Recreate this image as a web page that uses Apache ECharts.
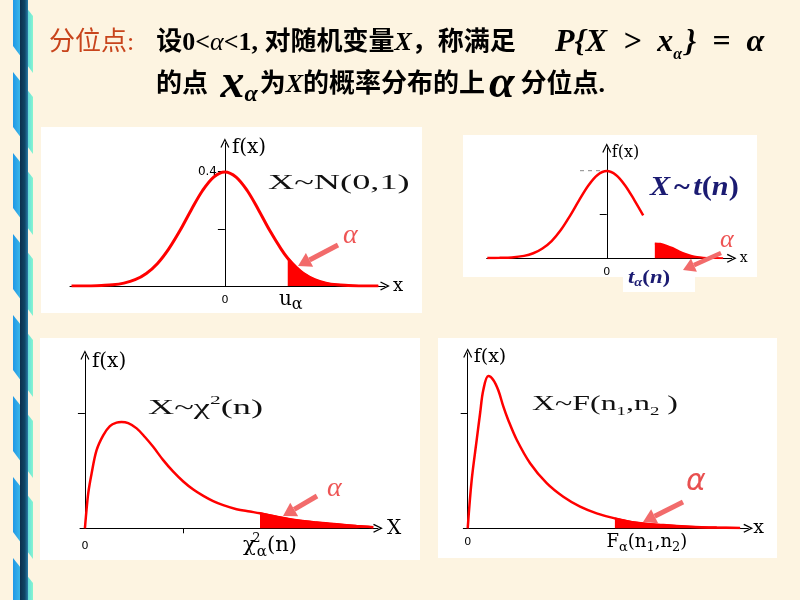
<!DOCTYPE html>
<html><head><meta charset="utf-8">
<script src="https://cdn.jsdelivr.net/npm/echarts@6/dist/echarts.min.js"></script>
<style>html,body{margin:0;padding:0;background:#FDF4E1}#c{width:800px;height:600px}</style>
</head><body><div id="c"></div>
<script>
// ---------- data ----------
// Panel 1: standard normal density N(0,1)
const normX = [-4.1,-3.7,-3.3,-3.0,-2.7,-2.4,-2.1,-1.8,-1.5,-1.2,-0.9,-0.6,-0.3,0,0.3,0.6,0.9,1.2,1.5,1.68,1.9,2.1,2.4,2.7,3.0,3.3,3.7,4.1];
const normY = [0.000,0.000,0.002,0.004,0.010,0.022,0.044,0.079,0.130,0.194,0.266,0.333,0.381,0.399,0.381,0.333,0.266,0.194,0.130,0.097,0.066,0.044,0.022,0.010,0.004,0.002,0.000,0.000];
const normQuantile = 1.68;
const normYTicks = [0.2, 0.4];
const normYLabels = ['0.4'];

// Panel 2: t(n) density (main part, then the shaded tail)
const tMainX = [-3.9,-3.5,-3.1,-2.7,-2.4,-2.1,-1.8,-1.5,-1.2,-0.9,-0.6,-0.3,0,0.3,0.6,0.9,1.19];
const tMainY = [0.001,0.002,0.004,0.011,0.023,0.045,0.079,0.129,0.194,0.266,0.333,0.381,0.399,0.381,0.333,0.266,0.196];
const tTailX = [1.57,1.75,1.95,2.15,2.35,2.55,2.75,2.95,3.15,3.45,3.8];
const tTailY = [0.068,0.066,0.058,0.047,0.033,0.021,0.012,0.006,0.003,0.001,0.000];
const tYTicks = [0.2];

// Panel 3: chi-square density
const chiX = [0,0.05,0.17,0.34,0.59,0.93,1.27,1.61,1.86,2.20,2.63,3.05,3.47,3.98,4.49,5.0,5.51,6.02,6.52,7.03,7.71,8.39,8.90,9.75,10.76,11.78,12.8,13.81,14.66];
const chiY = [0,0.020,0.061,0.095,0.135,0.161,0.177,0.183,0.184,0.182,0.173,0.158,0.141,0.118,0.098,0.081,0.067,0.056,0.047,0.040,0.033,0.029,0.026,0.020,0.014,0.010,0.007,0.004,0.002];
const chiQuantile = 8.90;
const chiXTicks = [5];
const chiYTicks = [0.2];

// Panel 4: F density
const fX = [0,0.10,0.225,0.31,0.39,0.515,0.64,0.765,0.89,1.015,1.225,1.56,1.975,2.39,2.81,3.225,3.68,4.225,4.89,5.56,6.225,6.81];
const fY = [0,0.21,0.384,0.50,0.601,0.662,0.645,0.60,0.53,0.47,0.385,0.283,0.196,0.137,0.094,0.065,0.043,0.024,0.014,0.007,0.003,0.001];
const fQuantile = 3.68;
const fYTicks = [0.5];

// ---------- helpers ----------
const RED = '#FF0000';
const SERIF = "'Liberation Serif','Times New Roman',serif";
const WSERIF = "'DejaVu Serif',serif";
const CJK = "'Liberation Serif','Noto Sans CJK SC',serif";
const NAVY = '#1B1B72';
const ARROWC = '#F26B6B';
const CHEV = 'path://M0,10 L5,0 L10,10 L8.8,10.8 L5,3 L1.2,10.8 Z';
const pairs = (xs, ys) => xs.map((v, i) => [v, ys[i]]);
const tail = (xs, ys, q) => pairs(xs, ys).filter(p => p[0] >= q - 1e-9);

function xAxisCfg(gi, min, max, o) {
  return {
    type: 'value', gridIndex: gi, min: min, max: max,
    splitLine: {show: false},
    axisLine: {onZero: true, symbol: ['none', CHEV], symbolSize: [9, 11], lineStyle: {color: '#000', width: 1}},
    axisTick: {show: !!o.ticks, customValues: o.ticks || [], length: 5, lineStyle: {color: '#000'}},
    axisLabel: {
      customValues: o.labels.map(l => l.v), margin: o.margin || 6,
      formatter: function (v) { const l = o.labels.find(l => Math.abs(l.v - v) < 1e-6); return l ? l.t : ''; },
      color: '#000', fontFamily: SERIF, fontSize: 12, rich: o.rich || {}
    },
    name: o.name, nameLocation: 'end', nameGap: o.nameGap,
    nameTextStyle: {fontFamily: WSERIF, fontSize: o.nameSize, color: '#000', verticalAlign: 'middle'}
  };
}
function yAxisCfg(gi, max, o) {
  return {
    type: 'value', gridIndex: gi, min: 0, max: max,
    splitLine: {show: false},
    axisLine: {onZero: true, symbol: ['none', CHEV], symbolSize: [9, 11], lineStyle: {color: '#000', width: 1}},
    axisTick: {show: true, customValues: o.ticks, length: 7, lineStyle: {color: '#000'}},
    axisLabel: {
      show: !!o.labels, customValues: o.labels ? o.labels.map(Number) : [], margin: o.labelMargin || 8,
      formatter: function (v) { return String(v); }, color: '#000', fontFamily: "'DejaVu Sans',sans-serif", fontSize: 12
    },
    name: 'f(x)', nameLocation: 'end', nameGap: o.nameGap,
    nameTextStyle: {fontFamily: WSERIF, fontSize: o.nameSize, color: '#000', align: 'left', verticalAlign: 'middle', padding: [0, 0, 0, o.namePadLeft]}
  };
}
function curve(gi, data, w) {
  return {type: 'line', xAxisIndex: gi, yAxisIndex: gi, data: data, showSymbol: false, smooth: 0.35,
    lineStyle: {color: RED, width: w}, silent: true, z: 3};
}
function shade(gi, data) {
  return {type: 'line', xAxisIndex: gi, yAxisIndex: gi, data: data, showSymbol: false, smooth: 0.35,
    lineStyle: {color: RED, width: 2}, areaStyle: {color: RED, opacity: 1}, silent: true, z: 4};
}
function arrow(x1, y1, x2, y2, w, head) {
  const a = Math.atan2(y2 - y1, x2 - x1);
  const bx = x2 - head * Math.cos(a), by = y2 - head * Math.sin(a);
  const px = -Math.sin(a) * head * 0.6, py = Math.cos(a) * head * 0.6;
  return [
    {type: 'line', z: 50, shape: {x1: x1, y1: y1, x2: bx, y2: by}, style: {stroke: ARROWC, lineWidth: w}},
    {type: 'polygon', z: 50, shape: {points: [[x2, y2], [bx + px, by + py], [bx - px, by - py]]}, style: {fill: ARROWC}}
  ];
}
function txt(x, y, text, style, rich, sx) {
  return {type: 'text', z: 60, x: x, y: y, scaleX: sx || 1, style: Object.assign({text: text, verticalAlign: 'middle', align: 'left', rich: rich || {}}, style)};
}

// ---------- ribbon decoration ----------
const ribbon = [];
for (let k = -1; k < 8; k++) {
  const y0 = 72 + 81 * k;
  ribbon.push({type: 'polygon', z: -5,
    shape: {points: [[13, y0], [33, y0 + 25], [33, y0 + 82], [13, y0 + 55]]},
    style: {fill: {type: 'linear', x: 0, y: 0, x2: 1, y2: 0, colorStops: [{offset: 0, color: '#1F98E8'}, {offset: 0.55, color: '#4CC6E6'}, {offset: 1, color: '#86F6D0'}]}}});
}
ribbon.push({type: 'rect', z: -4, shape: {x: 20, y: 0, width: 8, height: 600},
  style: {fill: {type: 'linear', x: 0, y: 0, x2: 1, y2: 0, colorStops: [{offset: 0, color: '#0B2E4C'}, {offset: 0.6, color: '#0F4566'}, {offset: 1, color: '#2A7CA8'}]}}});

// ---------- panels ----------
const panels = [
  {x: 41, y: 127, w: 381, h: 186},
  {x: 463, y: 135, w: 294, h: 142},
  {x: 623, y: 262, w: 72, h: 30},
  {x: 40, y: 338, w: 380, h: 222},
  {x: 438, y: 338, w: 339, h: 220}
].map(p => ({type: 'rect', z: -10, shape: {x: p.x, y: p.y, width: p.w, height: p.h}, style: {fill: '#FFFFFF'}}));

function subRich(main, sub, sup) {
  return {
    m: {fontFamily: WSERIF, fontSize: main, color: '#000', lineHeight: main + 6, verticalAlign: 'middle'},
    s: {fontFamily: WSERIF, fontSize: sub, color: '#000', lineHeight: main + 6, verticalAlign: 'bottom'},
    sup: {fontFamily: WSERIF, fontSize: sup || sub, color: '#000', lineHeight: main + 6, verticalAlign: 'top', width: 1},
    z: {fontFamily: "'DejaVu Sans',sans-serif", fontSize: 11, color: '#000', lineHeight: main + 6, verticalAlign: 'middle'}
  };
}

const option = {
  backgroundColor: '#FDF4E1',
  animation: false,
  grid: [
    {left: 70, top: 143, width: 315, height: 143, outerBoundsMode: 'none'},
    {left: 486.7, top: 148, width: 245, height: 110.3, outerBoundsMode: 'none'},
    {left: 80, top: 355, width: 298, height: 173.3, outerBoundsMode: 'none'},
    {left: 463.3, top: 353, width: 285, height: 175.3, outerBoundsMode: 'none'}
  ],
  xAxis: [
    xAxisCfg(0, -4.14, 4.28, {labels: [{v: 0, t: '{z|0}'}, {v: normQuantile, t: '{g|}{m|u}{s|α}'}], rich: Object.assign({g: {width: 6}}, subRich(20, 16)), margin: 1, name: 'x', nameGap: 8, nameSize: 18}),
    xAxisCfg(1, -3.92, 4.08, {labels: [{v: 0, t: '{z|0}'}], rich: subRich(14, 10), margin: 4, name: 'x', nameGap: 8, nameSize: 14}),
    xAxisCfg(2, -0.25, 14.9, {ticks: chiXTicks, labels: [{v: 0, t: '{z|0}'}, {v: chiQuantile, t: '{g|}{m|χ}{sup|2}{s|α}{m|(n)}'}], rich: Object.assign({g: {width: 20}}, subRich(21, 15, 13)), margin: 4, name: 'X', nameGap: 9, nameSize: 20}),
    xAxisCfg(3, -0.11, 7.015, {labels: [{v: 0, t: '{z|0}'}, {v: fQuantile, t: '{g|}{m|F}{s|α}{m|(n}{s|1}{m|,n}{s|2}{m|)}'}], rich: Object.assign({g: {width: 64}}, subRich(18, 13)), margin: 2, name: 'x', nameGap: 5, nameSize: 19})
  ],
  yAxis: [
    yAxisCfg(0, 0.5, {ticks: normYTicks, labels: normYLabels, labelMargin: -147, nameGap: -5, nameSize: 20, namePadLeft: 7}),
    yAxisCfg(1, 0.504, {ticks: tYTicks, labels: null, nameGap: -5, nameSize: 16, namePadLeft: 5}),
    yAxisCfg(2, 0.3, {ticks: chiYTicks, labels: null, nameGap: -7, nameSize: 20, namePadLeft: 7}),
    yAxisCfg(3, 0.762, {ticks: fYTicks, labels: null, nameGap: -4, nameSize: 19, namePadLeft: 6})
  ],
  series: [
    curve(0, pairs(normX, normY), 3),
    shade(0, tail(normX, normY, normQuantile)),
    curve(1, pairs(tMainX, tMainY), 2.5),
    shade(1, pairs(tTailX, tTailY)),
    curve(2, pairs(chiX, chiY), 2.5),
    shade(2, tail(chiX, chiY, chiQuantile)),
    curve(3, pairs(fX, fY), 2.5),
    shade(3, tail(fX, fY, fQuantile))
  ],
  graphic: [].concat(
    ribbon,
    panels,
    [{type: 'line', z: 20, shape: {x1: 580, y1: 170.7, x2: 603, y2: 170.7}, style: {stroke: '#888', lineWidth: 1, lineDash: [4, 4]}}],
    arrow(338, 245, 298, 266, 5, 13),
    arrow(721, 253, 683, 270, 4.5, 12),
    arrow(317, 496, 283, 516, 5, 13),
    arrow(683, 502, 643, 522, 5, 13),
    [
      // header
      txt(49, 43, '{r|分位点:}{g|}{b|设0<}{ai|α}{b|<1, 对随机变量}{xi|X}{b|，称满足}', {}, {
        r: {fontFamily: CJK, fontSize: 26, fill: '#C8441C'},
        g: {width: 22},
        b: {fontFamily: CJK, fontSize: 26, fontWeight: 'bold', fill: '#000'},
        ai: {fontFamily: SERIF, fontSize: 26, fontStyle: 'italic', fill: '#000'},
        xi: {fontFamily: SERIF, fontSize: 26, fontStyle: 'italic', fontWeight: 'bold', fill: '#000'}
      }),
      txt(555, 43, 'P{X  >  x{fs|α}}  =  α', {fontFamily: SERIF, fontSize: 32, fontStyle: 'italic', fontWeight: 'bold', fill: '#000', lineHeight: 40}, {
        fs: {fontFamily: SERIF, fontSize: 16, fontStyle: 'italic', fontWeight: 'bold', fill: '#000', lineHeight: 38, verticalAlign: 'bottom', padding: [0, 3, 0, 0]}
      }),
      txt(156, 85, '{b|的点 }{bx|x}{bs|α}{b|为}{xi|X}{b|的概率分布的上}{ba|α}{b|分位点.}', {}, {
        b: {fontFamily: CJK, fontSize: 26, fontWeight: 'bold', fill: '#000', lineHeight: 44},
        bx: {fontFamily: SERIF, fontSize: 48, fontStyle: 'italic', fontWeight: 'bold', fill: '#000', lineHeight: 44, padding: [0, 0, 0, 6]},
        bs: {fontFamily: SERIF, fontSize: 24, fontStyle: 'italic', fontWeight: 'bold', fill: '#000', lineHeight: 44, verticalAlign: 'bottom', padding: [0, 2, 0, 0]},
        xi: {fontFamily: SERIF, fontSize: 26, fontStyle: 'italic', fontWeight: 'bold', fill: '#000', lineHeight: 44},
        ba: {fontFamily: SERIF, fontSize: 46, fontStyle: 'italic', fontWeight: 'bold', fill: '#000', lineHeight: 44, padding: [0, 6, 0, 4]}
      }),
      // panel titles (the reference glyphs are stretched horizontally)
      txt(268, 183, 'X~N(0,1)', {fontFamily: SERIF, fontSize: 22, fill: '#111'}, null, 1.65),
      txt(650, 188, '{bi|X} {b|~} {bi|t}{b|(}{bi|n}{b|)}', {}, {
        bi: {fontFamily: SERIF, fontSize: 27, fontStyle: 'italic', fontWeight: 'bold', fill: NAVY},
        b: {fontFamily: SERIF, fontSize: 27, fontWeight: 'bold', fill: NAVY}
      }, 1.12),
      txt(628, 278, '{bi|t}{s|α}{b|(}{bi|n}{b|)}', {}, {
        bi: {fontFamily: SERIF, fontSize: 19, fontStyle: 'italic', fontWeight: 'bold', fill: NAVY, lineHeight: 22},
        b: {fontFamily: SERIF, fontSize: 19, fontWeight: 'bold', fill: NAVY, lineHeight: 22},
        s: {fontFamily: SERIF, fontSize: 12, fontStyle: 'italic', fontWeight: 'bold', fill: NAVY, lineHeight: 22, verticalAlign: 'bottom'}
      }, 1.2),
      txt(148, 408, '{m|X~χ}{sup|2}{m|(n)}', {}, {
        m: {fontFamily: SERIF, fontSize: 22, fill: '#111', lineHeight: 28},
        sup: {fontFamily: SERIF, fontSize: 13, fill: '#111', lineHeight: 28, verticalAlign: 'top'}
      }, 1.65),
      txt(532, 404, '{m|X~F(n}{s|1}{m|,n}{s|2}{m| )}', {}, {
        m: {fontFamily: SERIF, fontSize: 22, fill: '#111', lineHeight: 28},
        s: {fontFamily: SERIF, fontSize: 13, fill: '#111', lineHeight: 28, verticalAlign: 'bottom'}
      }, 1.45),
      // alpha labels
      txt(343, 236, 'α', {fontFamily: SERIF, fontSize: 28, fontStyle: 'italic', fill: '#EE5555'}),
      txt(720, 240, 'α', {fontFamily: SERIF, fontSize: 26, fontStyle: 'italic', fill: '#EE5555'}),
      txt(327, 489, 'α', {fontFamily: SERIF, fontSize: 28, fontStyle: 'italic', fill: '#EE5555'}),
      txt(686, 482, 'α', {fontFamily: "'DejaVu Sans',sans-serif", fontSize: 30, fontStyle: 'italic', fill: '#E85050'})
    ]
  )
};
const chart = echarts.init(document.getElementById('c'), null, {renderer: 'canvas'});
chart.setOption(option);
</script></body></html>
